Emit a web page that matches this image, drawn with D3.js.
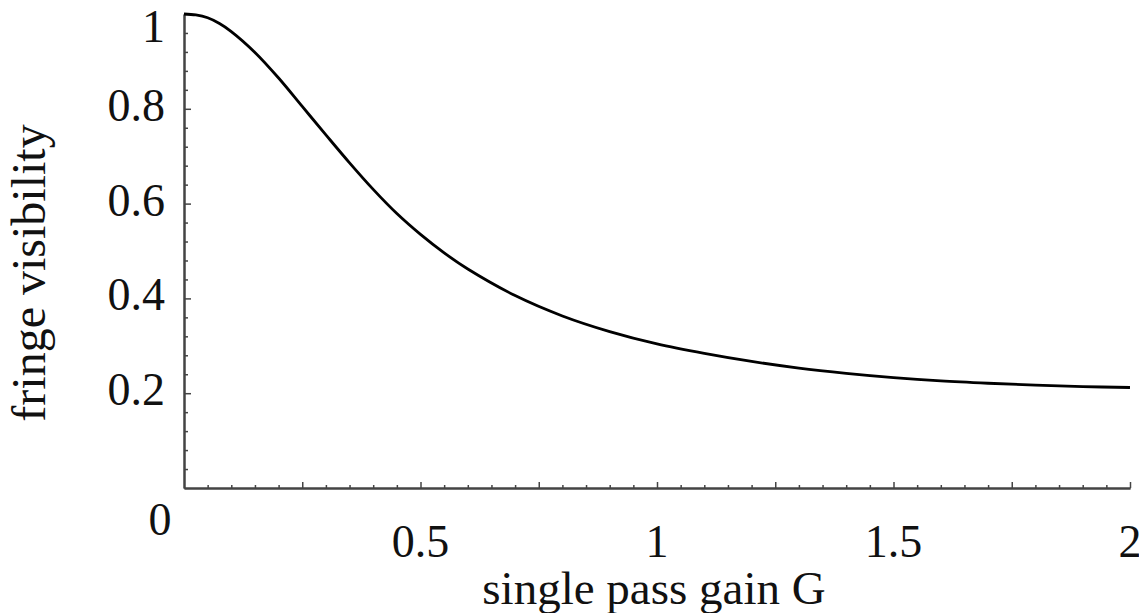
<!DOCTYPE html>
<html>
<head>
<meta charset="utf-8">
<script src="https://cdn.jsdelivr.net/npm/d3@7"></script>
<style>
    body { margin: 0; background: #fff; overflow: hidden; }
    svg text { font-family: "Liberation Serif", "DejaVu Serif", serif; fill: #111; }
    .axis path, .axis line { stroke: #444; }
</style>
</head>
<body>
<svg id="canvas" width="1139" height="613"></svg>
<script>
// values
const gain = [0, 0.025, 0.05, 0.075, 0.1, 0.15, 0.2, 0.25, 0.3, 0.35, 0.4, 0.45, 0.5, 0.55, 0.6,
    0.7, 0.8, 0.9, 1.0, 1.1, 1.2, 1.3, 1.4, 1.5, 1.6, 1.7, 1.8, 1.9, 2.0];
const visibility = [1.0, 0.998, 0.992, 0.980, 0.963, 0.919, 0.865, 0.805, 0.745, 0.686, 0.630, 0.579, 0.535, 0.496, 0.462,
    0.406, 0.363, 0.330, 0.304, 0.284, 0.267, 0.253, 0.242, 0.233, 0.226, 0.221, 0.217, 0.214, 0.212];

const xLabels = [0.5, 1, 1.5, 2];
const yLabels = [0.2, 0.4, 0.6, 0.8, 1];
const xTitle = 'single pass gain G';
const yTitle = 'fringe visibility';

const svg = d3.select('#canvas');

const x = d3.scaleLinear().domain([0, 2]).range([184, 1130]);
const y = d3.scaleLinear().domain([0, 1]).range([488, 14]);

// minor / major ticks
const xMinor = d3.range(1, 41).map(i => i * 0.05).filter(v => Math.abs(v / 0.25 - Math.round(v / 0.25)) > 1e-6);
const xMajor = d3.range(1, 9).map(i => i * 0.25);
const yMinor = d3.range(1, 26).map(i => i * 0.04).filter(v => Math.abs(v / 0.2 - Math.round(v / 0.2)) > 1e-6);
const yMajor = d3.range(1, 6).map(i => i * 0.2);

function addAxis(axis, transform) {
    const g = svg.append('g')
        .attr('class', 'axis')
        .attr('transform', transform)
        .call(axis);
    g.selectAll('path').attr('stroke-width', 2);
    g.selectAll('line').attr('stroke-width', 1.5);
    g.selectAll('text').remove();
    return g;
}

addAxis(d3.axisBottom(x).tickValues(xMinor).tickSize(-3).tickSizeOuter(0), 'translate(0,488)');
addAxis(d3.axisBottom(x).tickValues(xMajor).tickSize(-6).tickSizeOuter(0), 'translate(0,488)');
addAxis(d3.axisLeft(y).tickValues(yMinor).tickSize(-4).tickSizeOuter(0), 'translate(184,0)');
addAxis(d3.axisLeft(y).tickValues(yMajor).tickSize(-7).tickSizeOuter(0), 'translate(184,0)');

// tick labels
svg.append('g').selectAll('text')
    .data(xLabels)
    .enter().append('text')
    .attr('x', d => x(d))
    .attr('y', 557)
    .attr('text-anchor', 'middle')
    .attr('font-size', 46)
    .text(d => d);

svg.append('g').selectAll('text')
    .data(yLabels)
    .enter().append('text')
    .attr('x', 165)
    .attr('y', d => Math.max(y(d) + 12, 42))
    .attr('text-anchor', 'end')
    .attr('font-size', 46)
    .text(d => d);

svg.append('text')
    .attr('x', 160)
    .attr('y', 535)
    .attr('text-anchor', 'middle')
    .attr('font-size', 46)
    .text('0');

// axis titles
svg.append('text')
    .attr('x', 654)
    .attr('y', 604)
    .attr('text-anchor', 'middle')
    .attr('font-size', 47)
    .text(xTitle);

svg.append('text')
    .attr('transform', 'translate(45,273) rotate(-90)')
    .attr('text-anchor', 'middle')
    .attr('font-size', 48)
    .text(yTitle);

// curve
const line = d3.line()
    .x((d, i) => x(gain[i]))
    .y(d => y(d))
    .curve(d3.curveCatmullRom);

svg.append('path')
    .datum(visibility)
    .attr('d', line)
    .attr('fill', 'none')
    .attr('stroke', '#000')
    .attr('stroke-width', 2.8);
</script>
</body>
</html>
